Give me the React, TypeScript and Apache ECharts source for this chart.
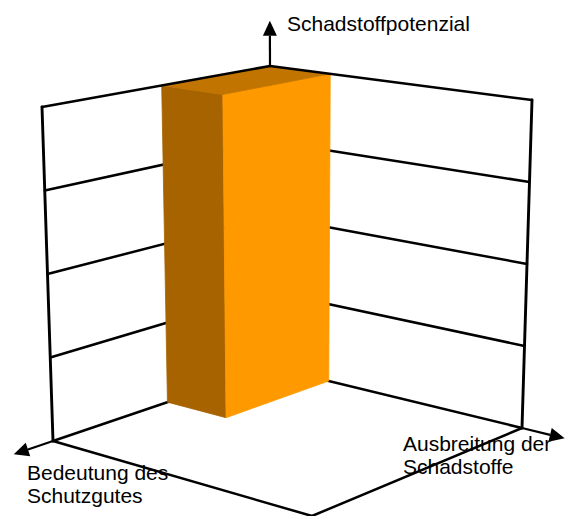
import React, { useEffect, useRef } from "react";
import * as echarts from "echarts";

const WIDTH = 565;
const HEIGHT = 516;

// Axis captions: [Bedeutung axis, Ausbreitung axis, Potenzial axis]
const axisNames = ["Bedeutung des\nSchutzgutes", "Ausbreitung der\nSchadstoffe", "Schadstoffpotenzial"];
// Grid levels drawn on both back walls (potential axis)
const levelTicks = [0, 1, 2, 3, 4];
const axisMax = 4;
// Box values: [Bedeutung des Schutzgutes, Ausbreitung der Schadstoffe, Schadstoffpotenzial]
const boxValues = [[1.9, 0.92, 4]];
// How far each axis arrow reaches, in axis units
const arrowEnds = [4.72, 4.68, 4.6];

// Screen anchors of the unit cube used by the oblique projection
// order: origin, far end of axis 0, far end of axis 1, both
const cubeBottom = [
  [271, 367],
  [53, 441],
  [522, 428],
  [312, 516],
];
const cubeTop = [
  [270, 66],
  [42, 107],
  [532, 100],
  [312, 152],
];

const bil = (c: number[][], u: number, v: number, k: number) =>
  c[0][k] * (1 - u) * (1 - v) + c[1][k] * u * (1 - v) + c[2][k] * (1 - u) * v + c[3][k] * u * v;

// (a, b, h) in axis units -> screen units on the hidden cartesian plane
function project(a: number, b: number, h: number): number[] {
  const u = a / axisMax;
  const v = b / axisMax;
  const w = h / axisMax;
  return [0, 1].map((k) => bil(cubeBottom, u, v, k) * (1 - w) + bil(cubeTop, u, v, k) * w);
}

const FRAME = "#000000";
const FONT = "21px 'Liberation Sans', Arial, sans-serif";

export default function App() {
  const ref = useRef<HTMLDivElement>(null);

  useEffect(() => {
    if (!ref.current) return;
    const chart = echarts.init(ref.current, null, { renderer: "svg" });

    const pt = (api: any, a: number, b: number, h: number) => api.coord(project(a, b, h));

    const line = (p: number[], q: number[], lw = 2.5) => ({
      type: "line",
      shape: { x1: p[0], y1: p[1], x2: q[0], y2: q[1] },
      style: { stroke: FRAME, lineWidth: lw, lineCap: "round" },
    });

    const arrow = (a: number[], b: number[]) => {
      const dx = b[0] - a[0];
      const dy = b[1] - a[1];
      const len = Math.hypot(dx, dy);
      const ux = dx / len;
      const uy = dy / len;
      const hl = 15;
      const hw = 7;
      const base = [b[0] - ux * hl, b[1] - uy * hl];
      return [
        {
          type: "line",
          shape: { x1: a[0], y1: a[1], x2: base[0], y2: base[1] },
          style: { stroke: FRAME, lineWidth: 2.2 },
        },
        {
          type: "polygon",
          shape: {
            points: [
              b,
              [base[0] - uy * hw, base[1] + ux * hw],
              [base[0] + uy * hw, base[1] - ux * hw],
            ],
          },
          style: { fill: FRAME },
        },
      ];
    };

    const option: any = {
      animation: false,
      grid: { left: 0, right: 0, top: 0, bottom: 0 },
      xAxis: { type: "value", min: 0, max: WIDTH, show: false },
      yAxis: { type: "value", min: 0, max: HEIGHT, inverse: true, show: false },
      series: [
        {
          // back walls: level lines, outer edges and floor outline
          type: "custom",
          z: 2,
          clip: false,
          data: levelTicks.filter((t) => t < axisMax).map((t) => [t]),
          renderItem: (params: any, api: any) => {
            const h = api.value(0);
            const children: any[] = [
              line(pt(api, axisMax, 0, h), pt(api, 0, 0, h)),
              line(pt(api, 0, 0, h), pt(api, 0, axisMax, h)),
            ];
            if (params.dataIndex === 0) {
              children.push(
                line(pt(api, axisMax, 0, 0), pt(api, axisMax, 0, axisMax), 2.9),
                line(pt(api, 0, axisMax, 0), pt(api, 0, axisMax, axisMax), 2.9),
                line(pt(api, 0, 0, 0), pt(api, 0, 0, axisMax), 2.9),
                line(pt(api, axisMax, 0, 0), pt(api, axisMax, axisMax, 0)),
                line(pt(api, axisMax, axisMax, 0), pt(api, 0, axisMax, 0))
              );
            }
            return { type: "group", children };
          },
        },
        {
          // the box
          type: "custom",
          z: 3,
          clip: false,
          data: boxValues,
          renderItem: (_params: any, api: any) => {
            const a = api.value(0);
            const b = api.value(1);
            const h = api.value(2);
            const face = (pts: number[][], fill: string) => ({
              type: "polygon",
              shape: { points: pts },
              style: { fill, stroke: fill, lineWidth: 0.8 },
            });
            return {
              type: "group",
              children: [
                face([pt(api, a, 0, 0), pt(api, a, b, 0), pt(api, a, b, h), pt(api, a, 0, h)], "#A66300"),
                face([pt(api, a, b, 0), pt(api, 0, b, 0), pt(api, 0, b, h), pt(api, a, b, h)], "#FF9900"),
                face([pt(api, 0, 0, h), pt(api, a, 0, h), pt(api, a, b, h), pt(api, 0, b, h)], "#C27400"),
              ],
            };
          },
        },
        {
          // top rim of the walls
          type: "custom",
          z: 4,
          clip: false,
          data: levelTicks.filter((t) => t === axisMax).map((t) => [t]),
          renderItem: (_params: any, api: any) => {
            const h = api.value(0);
            return {
              type: "group",
              children: [
                line(pt(api, axisMax, 0, h), pt(api, 0, 0, h)),
                line(pt(api, 0, 0, h), pt(api, 0, axisMax, h)),
              ],
            };
          },
        },
        {
          // axis arrows
          type: "custom",
          z: 5,
          clip: false,
          data: arrowEnds.map((e, i) => [i, e]),
          renderItem: (_params: any, api: any) => {
            const i = api.value(0);
            const e = api.value(1);
            let from: number[];
            let to: number[];
            if (i === 0) {
              from = pt(api, axisMax, 0, 0);
              to = pt(api, e, 0, 0);
            } else if (i === 1) {
              from = pt(api, 0, axisMax, 0);
              to = pt(api, 0, e, 0);
            } else {
              from = pt(api, 0, 0, axisMax);
              to = pt(api, 0, 0, e);
            }
            return { type: "group", children: arrow(from, to) };
          },
        },
      ],
      graphic: [
        {
          type: "text",
          x: 287,
          y: 23.5,
          z: 10,
          style: { text: axisNames[2], font: FONT, fill: "#000", verticalAlign: "middle" },
        },
        {
          type: "text",
          x: 27,
          y: 461,
          z: 10,
          style: { text: axisNames[0], font: FONT, lineHeight: 23, fill: "#000", verticalAlign: "top" },
        },
        {
          type: "text",
          x: 403,
          y: 432,
          z: 10,
          style: { text: axisNames[1], font: FONT, lineHeight: 23, fill: "#000", verticalAlign: "top" },
        },
      ],
    };

    chart.setOption(option);
    return () => chart.dispose();
  }, []);

  return (
    <div
      ref={ref}
      style={{ position: "fixed", left: 0, top: 0, width: WIDTH, height: HEIGHT, background: "#fff" }}
    />
  );
}
